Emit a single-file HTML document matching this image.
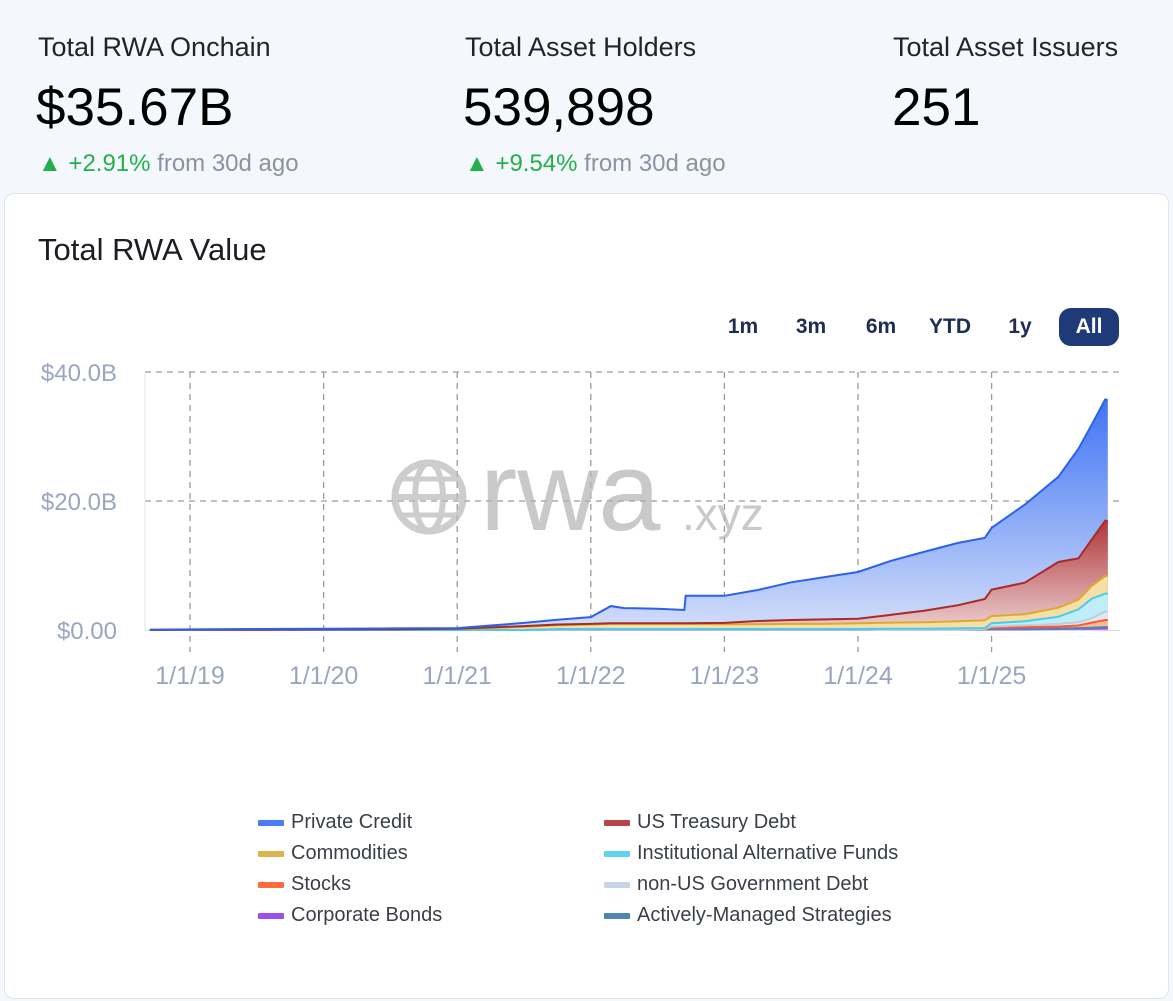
<!DOCTYPE html>
<html><head><meta charset="utf-8"><style>
body{margin:0;width:1173px;height:1001px;background:#f4f7fc;font-family:"Liberation Sans",sans-serif;position:relative;overflow:hidden}
.abs{position:absolute}
.lbl{font-size:27px;color:#1f2430}
.big{font-size:53px;color:#000}
.chg{font-size:24px;color:#8a93a3}
.chg b{color:#22b04b;font-weight:normal}
#card{left:4px;top:193px;width:1163px;height:804px;background:#fff;border:1px solid #dfe4ec;border-radius:10px}
.btn{position:absolute;top:308px;height:38px;line-height:38px;font-size:21px;font-weight:bold;color:#1e2d55;text-align:center}
.leg{position:absolute;font-size:20px;color:#3a3f48}
.sw{position:absolute;width:26px;height:6px;border-radius:1px}
</style></head><body>
<div class="abs lbl" style="left:38px;top:32px">Total RWA Onchain</div>
<div class="abs big" style="left:36px;top:77px">$35.67B</div>
<div class="abs chg" style="left:38px;top:150px"><b>▲ +2.91%</b> from 30d ago</div>
<div class="abs lbl" style="left:465px;top:32px">Total Asset Holders</div>
<div class="abs big" style="left:463px;top:77px">539,898</div>
<div class="abs chg" style="left:465px;top:150px"><b>▲ +9.54%</b> from 30d ago</div>
<div class="abs lbl" style="left:893px;top:32px">Total Asset Issuers</div>
<div class="abs big" style="left:892px;top:77px">251</div>
<div id="card" class="abs"></div>
<div class="abs" style="left:38px;top:232px;font-size:31px;color:#1a1d24">Total RWA Value</div>
<div class="btn" style="left:718px;width:50px">1m</div>
<div class="btn" style="left:786px;width:50px">3m</div>
<div class="btn" style="left:856px;width:50px">6m</div>
<div class="btn" style="left:922px;width:56px">YTD</div>
<div class="btn" style="left:995px;width:50px">1y</div>
<div class="btn" style="left:1059px;width:60px;background:#1e3a78;color:#fff;border-radius:12px">All</div>
<svg id="chart" class="abs" style="left:0;top:0" width="1173" height="1001">
<defs>
<linearGradient id="g0" x1="0" y1="0" x2="0" y2="1"><stop offset="0" stop-color="#3f74f4"/><stop offset="1" stop-color="#d3def9"/></linearGradient>
<linearGradient id="g1" x1="0" y1="0" x2="0" y2="1"><stop offset="0" stop-color="#b0363a"/><stop offset="1" stop-color="#ecd0d0"/></linearGradient>
</defs>
</svg>
<div class="sw" style="left:258px;top:820px;background:#4a7cf5"></div><div class="leg" style="left:291px;top:811px">Private Credit</div>
<div class="sw" style="left:258px;top:851px;background:#e0b24c"></div><div class="leg" style="left:291px;top:842px">Commodities</div>
<div class="sw" style="left:258px;top:882px;background:#ff6a3d"></div><div class="leg" style="left:291px;top:873px">Stocks</div>
<div class="sw" style="left:258px;top:913px;background:#9b50ec"></div><div class="leg" style="left:291px;top:904px">Corporate Bonds</div>
<div class="sw" style="left:604px;top:820px;background:#b84446"></div><div class="leg" style="left:637px;top:811px">US Treasury Debt</div>
<div class="sw" style="left:604px;top:851px;background:#5fd3f0"></div><div class="leg" style="left:637px;top:842px">Institutional Alternative Funds</div>
<div class="sw" style="left:604px;top:882px;background:#c8d3e6"></div><div class="leg" style="left:637px;top:873px">non-US Government Debt</div>
<div class="sw" style="left:604px;top:913px;background:#4f86b8"></div><div class="leg" style="left:637px;top:904px">Actively-Managed Strategies</div>
<script>
const dates=[2018.7,2019.0,2019.5,2020.0,2020.5,2021.0,2021.25,2021.5,2021.75,2022.0,2022.15,2022.25,2022.5,2022.7,2022.71,2023.0,2023.25,2023.5,2023.75,2024.0,2024.25,2024.5,2024.75,2024.95,2025.0,2025.25,2025.5,2025.65,2025.75,2025.85,2025.87];
const corporate=[0,0,0,0,0,0,0,0,0.05,0.05,0.05,0.05,0.05,0.05,0.05,0.05,0.05,0.05,0.05,0.05,0.1,0.1,0.1,0.1,0.1,0.1,0.15,0.2,0.2,0.25,0.25];
const active=[0,0,0,0,0,0,0,0,0,0,0,0,0,0,0,0,0,0,0,0,0,0,0,0,0.05,0.1,0.1,0.1,0.15,0.2,0.2];
const stocks=[0,0,0,0,0,0,0,0,0,0,0,0,0,0,0,0,0,0,0,0,0,0,0,0.05,0.2,0.25,0.3,0.4,0.8,1.1,1.1];
const nonUS=[0,0,0,0,0,0,0,0,0,0,0,0,0,0,0,0,0,0,0,0,0,0,0,0,0.2,0.3,0.4,0.5,0.7,1.3,1.3];
const instAlt=[0,0,0,0,0,0,0,0,0.1,0.1,0.1,0.1,0.1,0.1,0.1,0.1,0.1,0.1,0.1,0.1,0.1,0.1,0.15,0.15,0.5,0.6,1.1,2.0,3.0,2.8,2.8];
const commodities=[0.02,0.03,0.05,0.08,0.1,0.15,0.3,0.5,0.6,0.7,0.8,0.8,0.8,0.8,0.8,0.75,0.75,0.8,0.8,0.9,0.95,1.0,1.1,1.2,1.1,1.1,1.4,1.5,2.0,2.7,2.7];
const treasury=[0,0,0,0,0,0.05,0.1,0.1,0.1,0.1,0.1,0.1,0.1,0.1,0.1,0.2,0.5,0.6,0.7,0.7,1.2,1.8,2.5,3.3,4.1,4.9,7.1,6.4,7.2,8.6,8.6];
const privateCredit=[0.03,0.07,0.1,0.12,0.15,0.1,0.3,0.5,0.75,1.05,2.65,2.35,2.25,2.05,4.25,4.2,4.8,5.85,6.55,7.25,8.4,9.15,9.65,9.5,9.6,12.1,13.2,17,17.8,18.8,18.7];
const yTicks=[0,20,40];
const yTickLabels=["$0.00","$20.0B","$40.0B"];
const xTicks=[2019,2020,2021,2022,2023,2024,2025];
const xTickLabels=["1/1/19","1/1/20","1/1/21","1/1/22","1/1/23","1/1/24","1/1/25"];
const X=t=>190+(t-2019)*133.6;
const Y=v=>630-v*6.45;
const svg=document.getElementById('chart');
const NS='http://www.w3.org/2000/svg';
function mk(tag,attrs){const e=document.createElementNS(NS,tag);for(const k in attrs)e.setAttribute(k,attrs[k]);svg.appendChild(e);return e;}
yTicks.forEach((v,i)=>{
  if(v>0){const l=mk('line',{x1:145,x2:1120,y1:Y(v),y2:Y(v),stroke:'#9a9a9a','stroke-dasharray':'6,5','stroke-width':1.3});
  
  }
  const t=mk('text',{x:117,y:Y(v)+9,'text-anchor':'end','font-size':24,fill:'#9aa6bf','font-family':'Liberation Sans, sans-serif'});t.textContent=yTickLabels[i];
  
  
});
xTicks.forEach((v,i)=>{
  const l=mk('line',{x1:X(v),x2:X(v),y1:372,y2:652,stroke:'#9a9a9a','stroke-dasharray':'6,5','stroke-width':1.3});
  
  
  const t=mk('text',{x:X(v),y:684,'text-anchor':'middle','font-size':25,fill:'#9aa6bf','font-family':'Liberation Sans, sans-serif'});t.textContent=xTickLabels[i];
  
  
});
mk('line',{x1:145,x2:145,y1:372,y2:630,stroke:'#e3e6ec'});
mk('line',{x1:145,x2:1120,y1:630.5,y2:630.5,stroke:'#d6dbe4'});
const wm=mk('g',{opacity:0.7});


wm.innerHTML='<circle cx="429" cy="497" r="34" fill="none" stroke="#b9b9b9" stroke-width="7"/><ellipse cx="429" cy="497" rx="14" ry="34" fill="none" stroke="#b9b9b9" stroke-width="6"/><line x1="395" y1="497" x2="463" y2="497" stroke="#b9b9b9" stroke-width="6"/><line x1="400" y1="479" x2="458" y2="479" stroke="#b9b9b9" stroke-width="5"/><line x1="400" y1="515" x2="458" y2="515" stroke="#b9b9b9" stroke-width="5"/><text x="480" y="530" font-size="112" fill="#b3b3b3" font-family="Liberation Sans, sans-serif">rwa</text><text x="682" y="530" font-size="46" fill="#b3b3b3" font-family="Liberation Sans, sans-serif">.xyz</text>';
const series=[
 {name:'corporate-bonds',v:corporate,line:'#9b50ec',fill:'#c7a2f5'},
 {name:'actively-managed',v:active,line:'#4f86b8',fill:'#a8c4de'},
 {name:'stocks',v:stocks,line:'#ff5a2a',fill:'#ffb890'},
 {name:'non-us-government-debt',v:nonUS,line:'#c0cbe0',fill:'#e2e8f2'},
 {name:'institutional-alternative-funds',v:instAlt,line:'#47cbef',fill:'#bfeefa'},
 {name:'commodities',v:commodities,line:'#e0a830',fill:'#f4dfa6'},
 {name:'us-treasury-debt',v:treasury,line:'#a82a2a',fill:'url(#g1)'},
 {name:'private-credit',v:privateCredit,line:'#2a62ee',fill:'url(#g0)'}
];
let cum=dates.map(()=>0);
const tops=series.map(s=>{cum=cum.map((c,i)=>c+s.v[i]);return cum.slice();});
for(let k=series.length-1;k>=0;k--){
  const top=tops[k];
  let d='M'+X(dates[0])+','+Y(0);
  dates.forEach((t,i)=>{d+=' L'+X(t).toFixed(1)+','+Y(top[i]).toFixed(1);});
  d+=' L'+X(dates[dates.length-1])+','+Y(0)+' Z';
  const a=mk('path',{d:d,fill:series[k].fill,stroke:'none'});
  
  
}
for(let k=0;k<series.length;k++){
  const top=tops[k];
  const d=dates.map((t,i)=>(i?'L':'M')+X(t).toFixed(1)+','+Y(top[i]).toFixed(1)).join(' ');
  const l=mk('path',{d:d,fill:'none',stroke:series[k].line,'stroke-width':2});
  
  
}
</script>
</body></html>
